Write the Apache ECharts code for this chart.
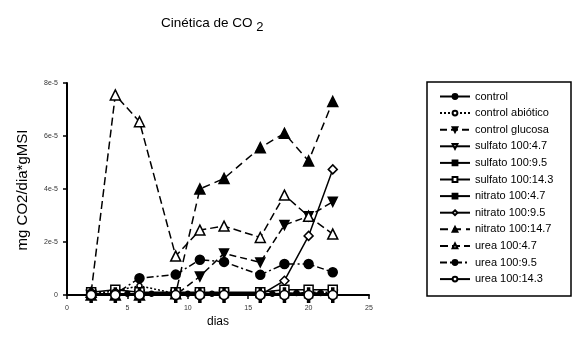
<!DOCTYPE html>
<html>
<head>
<meta charset="utf-8">
<script src="https://cdn.jsdelivr.net/npm/echarts@6/dist/echarts.min.js"></script>
<style>html,body{margin:0;padding:0;background:#fff;}#c{width:576px;height:339px;}</style>
</head>
<body>
<div id="c"></div>
<script>
var days = [2, 4, 6, 9, 11, 13, 16, 18, 20, 22];
var controlDays = [5, 7, 10, 12, 17, 19, 21];
var control = [0.05, 0.05, 0.05, 0.05, 0.05, 0.08, 0.08];
var controlAbiotico = [0.05, 0.15, 0.35, 0.05, 0.0, 0.0, 0.0, 0.05, 0.1, 0.1];
var controlGlucosa = [0.0, 0.0, 0.0, 0.0, 0.7, 1.57, 1.23, 2.64, 2.97, 3.52];
var sulfato47 = [0, 0, 0, 0, 0, 0, 0, 0, 0, 0];
var sulfato95 = [0.05, 0.05, 0.05, 0.05, 0.05, 0.05, 0.05, 0.05, 0.05, 0.05];
var sulfato143 = [0.1, 0.2, 0.1, 0.1, 0.1, 0.1, 0.1, 0.2, 0.2, 0.2];
var nitrato47 = [0, 0, 0, 0, 0, 0, 0, 0, 0, 0];
var nitrato95 = [0, 0, 0, 0, 0, 0, 0, 0.54, 2.23, 4.74];
var nitrato147 = [0.0, 0.0, 0.0, 0.05, 4.0, 4.4, 5.56, 6.1, 5.06, 7.3];
var urea47 = [0.1, 7.55, 6.54, 1.47, 2.45, 2.6, 2.17, 3.77, 2.97, 2.3];
var urea95 = [0.05, 0.05, 0.63, 0.77, 1.33, 1.25, 0.76, 1.17, 1.17, 0.86];
var urea143 = [0, 0, 0, 0, 0, 0, 0, 0, 0, 0];
var scale = 1e-5;
var xTicks = [0, 5, 10, 15, 20, 25];
var yTicks = ['0', '2e-5', '4e-5', '6e-5', '8e-5'];

function pairs(xs, ys) { return xs.map(function (x, i) { return [x, ys[i] * scale]; }); }

var downTri = 'path://M0,0 L10,0 L5,9 Z';
function mk(name, xs, ys, symbol, size, filled, dash) {
  return {
    name: name, type: 'line', data: pairs(xs, ys),
    symbol: symbol, symbolSize: size, showAllSymbol: true,
    lineStyle: { color: '#000', width: 1.5, type: dash },
    itemStyle: { color: filled ? '#000' : '#fff', borderColor: '#000', borderWidth: 1.5 },
    emphasis: { disabled: true }, animation: false, z: 2
  };
}

var series = [
  mk('control', controlDays, control, 'circle', 5, true, 'solid'),
  mk('control abiótico', days, controlAbiotico, 'circle', 5, false, [2, 2]),
  mk('control glucosa', days, controlGlucosa, downTri, 9, true, [7, 4]),
  mk('sulfato 100:4.7', days, sulfato47, downTri, 9, false, 'solid'),
  mk('sulfato 100:9.5', days, sulfato95, 'rect', 8, true, 'solid'),
  mk('sulfato 100:14.3', days, sulfato143, 'rect', 9, false, 'solid'),
  mk('nitrato 100:4.7', days, nitrato47, 'rect', [2, 9], true, 'solid'),
  mk('nitrato 100:9.5', days, nitrato95, 'diamond', 9, false, 'solid'),
  mk('nitrato 100:14.7', days, nitrato147, 'triangle', 10, true, [8, 5]),
  mk('urea 100:4.7', days, urea47, 'triangle', 10, false, [8, 4]),
  mk('urea 100:9.5', days, urea95, 'circle', 9, true, [7, 3, 2, 3]),
  mk('urea 100:14.3', days, urea143, 'circle', 9, false, 'solid')
];

var chart = echarts.init(document.getElementById('c'), null, { renderer: 'canvas' });
chart.setOption({
  animation: false,
  backgroundColor: '#fff',
  textStyle: { fontFamily: 'Liberation Sans, Arial, sans-serif' },
  title: {
    text: '{a|Cinética de CO}{b| 2}',
    left: 156, top: 8,
    textStyle: {
      fontWeight: 'normal',
      rich: {
        a: { fontSize: 13.5, color: '#000', fontWeight: 'normal', fontFamily: 'Liberation Sans' },
        b: { fontSize: 13, color: '#000', fontWeight: 'normal', fontFamily: 'Liberation Sans', padding: [8, 0, 0, 0] }
      }
    }
  },
  grid: { left: 67, top: 83, width: 302, height: 212, containLabel: false },
  xAxis: {
    type: 'value', min: 0, max: 25, interval: 5,
    axisLine: { show: true, onZero: false, lineStyle: { color: '#000', width: 2 } },
    axisTick: { show: true, length: 4, lineStyle: { color: '#000', width: 1.5 } },
    axisLabel: { fontSize: 7, color: '#333', margin: 10,
      formatter: function (v) { return xTicks.indexOf(v) >= 0 ? String(v) : ''; } },
    splitLine: { show: false }
  },
  yAxis: {
    type: 'value', min: 0, max: 8e-5, interval: 2e-5,
    axisLine: { show: true, lineStyle: { color: '#000', width: 2 } },
    axisTick: { show: true, length: 4, lineStyle: { color: '#000', width: 1.5 } },
    axisLabel: { fontSize: 7, color: '#333', margin: 9,
      formatter: function (v) { return yTicks[Math.round(v / 2e-5)]; } },
    splitLine: { show: false }
  },
  legend: {
    orient: 'vertical', left: 434, top: 86,
    itemWidth: 30, itemHeight: 6, itemGap: 5.6,
    textStyle: { fontSize: 11, color: '#000', fontFamily: 'Liberation Sans' },
    data: series.map(function (s) { return s.name; })
  },
  graphic: [
    { type: 'rect', shape: { x: 427, y: 82, width: 144, height: 214 },
      style: { fill: 'none', stroke: '#000', lineWidth: 1.5 } },
    { type: 'text', x: 23, y: 190, rotation: Math.PI / 2,
      style: { text: 'mg CO2/dia*gMSI', fontSize: 15, fill: '#000', align: 'center', verticalAlign: 'middle', fontFamily: 'Liberation Sans' } },
    { type: 'text', x: 218, y: 322,
      style: { text: 'dias', fontSize: 12, fill: '#000', align: 'center', verticalAlign: 'middle', fontFamily: 'Liberation Sans' } }
  ],
  series: series
});
</script>
</body>
</html>
